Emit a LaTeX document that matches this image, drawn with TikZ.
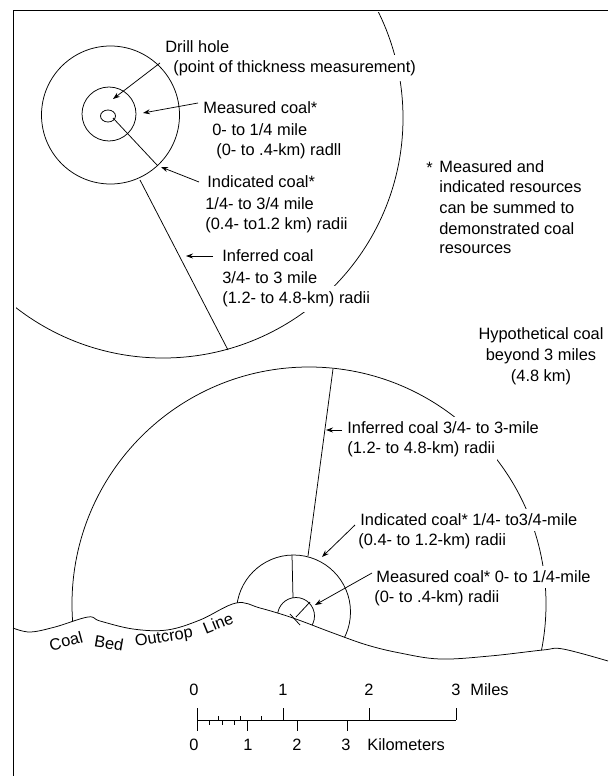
\documentclass[tikz,border=0pt]{standalone}
\usepackage{fontspec}
\setmainfont{Liberation Sans}
\usetikzlibrary{arrows.meta,shapes.geometric}
\begin{document}
\begin{tikzpicture}[x=1pt,y=-1pt,line width=0.75pt,
 txt/.style={inner sep=0pt,anchor=west,font=\fontsize{16.4}{19.7}\selectfont},
 ctxt/.style={txt,anchor=center},
 gap/.style={fill=white,inner xsep=2pt,inner ysep=5pt},
 arr/.style={-{Stealth[length=7pt,width=5pt]}},
 ring/.style={draw,circle,inner sep=0pt}]
\useasboundingbox (0,0) rectangle (608,776);
% frame
\coordinate (fbl) at (13,776); \coordinate (ftl) at (13,10); \coordinate (ftr) at (608,10);
\draw (fbl) -- (ftl) -- (ftr);

% ---------- top drill hole ----------
\node[draw,ellipse,inner sep=0pt,minimum width=15pt,minimum height=12pt] (hole) at (108,116) {};
\node[ring,minimum size=54pt] (meas) at (109,114) {};
\node[ring,minimum size=138pt] (ind) at (110.5,115) {};
\begin{scope}
\clip (16,13) rectangle (608,776);
\draw (163,118) circle[radius=240];
\end{scope}
\coordinate (r1a) at (113,118); \coordinate (r1b) at (157,165);
\coordinate (r2a) at (140,180); \coordinate (r2b) at (228,350);
\draw (r1a) -- (r1b);
\draw (r2a) -- (r2b);

\node[txt] (t1) at (165,47) {Drill hole};
\node[txt,gap] (t2) at (171,68) {(point of thickness measurement)};
\node[txt] (t3) at (203,108) {Measured coal*};
\node[txt] (t4) at (212,130) {0- to 1/4 mile};
\node[txt] (t5) at (216,151) {(0- to .4-km) radll};
\node[txt] (t6) at (207,182) {Indicated coal*};
\node[txt] (t7) at (205,204) {1/4- to 3/4 mile};
\node[txt] (t8) at (205,225) {(0.4- to1.2 km) radii};
\node[txt] (t9) at (222,256) {Inferred coal};
\node[txt] (t10) at (222,278) {3/4- to 3 mile};
\node[txt,gap] (t11) at (220,299) {(1.2- to 4.8-km) radii};

\coordinate (a1s) at (160,63); \coordinate (a1e) at (113,99);
\coordinate (a2s) at (198,103); \coordinate (a2e) at (143,113);
\coordinate (a3s) at (199,182); \coordinate (a3e) at (161,167);
\coordinate (a4s) at (213,256); \coordinate (a4e) at (186,256);
\draw[arr] (a1s) -- (a1e);
\draw[arr] (a2s) -- (a2e);
\draw[arr] (a3s) -- (a3e);
\draw[arr] (a4s) -- (a4e);

% note
\node[txt] (star) at (426,168) {*};
\node[txt] (n1) at (439,167) {Measured and};
\node[txt] (n2) at (439,187) {indicated resources};
\node[txt] (n3) at (439,208) {can be summed to};
\node[txt] (n4) at (439,229) {demonstrated coal};
\node[txt] (n5) at (439,249) {resources};

\node[ctxt] (h1) at (541,335) {Hypothetical coal};
\node[ctxt] (h2) at (541,356) {beyond 3 miles};
\node[ctxt] (h3) at (541,377) {(4.8 km)};

% ---------- bottom: outcrop ----------
\begin{scope}
\clip plot[smooth,tension=0.6] coordinates {(13,628) (30,632) (55,627) (88,617) (100,621) (133,629) (167,630) (200,620) (236,603) (260,608) (293,618) (333,633) (367,645) (400,653) (440,659) (490,656) (543,650) (563,649) (608,661)} -- (608,0) -- (0,0) -- cycle;
\draw (309,604) circle[radius=237];
\draw (293.5,612) circle[radius=57];
\draw (296,616) circle[radius=18.5];
\end{scope}
\draw plot[smooth,tension=0.6] coordinates {(13,628) (30,632) (55,627) (88,617) (100,621) (133,629) (167,630) (200,620) (236,603) (260,608) (293,618) (333,633) (367,645) (400,653) (440,659) (490,656) (543,650) (563,649) (608,661)};

\coordinate (b1a) at (333,369); \coordinate (b1b) at (308,556);
\coordinate (b2a) at (292,555); \coordinate (b2b) at (293,598);
\coordinate (b3a) at (296,617); \coordinate (b3b) at (310,602);
\coordinate (b4a) at (290,614); \coordinate (b4b) at (300,625);
\draw (b1a) -- (b1b);
\draw (b2a) -- (b2b);
\draw (b3a) -- (b3b);
\draw (b4a) -- (b4b);

\node[txt,gap] (u1) at (345,428) {Inferred coal 3/4- to 3-mile};
\node[txt,gap] (u2) at (345,449) {(1.2- to 4.8-km) radii};
\node[txt,gap] (u3) at (358,520) {Indicated coal* 1/4- to3/4-mile};
\node[txt] (u4) at (358,541) {(0.4- to 1.2-km) radii};
\node[txt,gap] (u5) at (374,577) {Measured coal* 0- to 1/4-mile};
\node[txt] (u6) at (374,598) {(0- to .4-km) radii};

\coordinate (c1s) at (342,430); \coordinate (c1e) at (326,430);
\coordinate (c2s) at (355,525); \coordinate (c2e) at (322,557);
\coordinate (c3s) at (372,573); \coordinate (c3e) at (315,605);
\draw[arr] (c1s) -- (c1e);
\draw[arr] (c2s) -- (c2e);
\draw[arr] (c3s) -- (c3e);

\node[txt,anchor=center,rotate=15] (w1) at (66,641) {Coal};
\node[txt,anchor=center,rotate=-10] (w2) at (109,643) {Bed};
\node[txt,anchor=center,rotate=9] (w3) at (164,638) {Outcrop};
\node[txt,anchor=center,rotate=22] (w4) at (218,623) {Line};

% ---------- scale bar ----------
\coordinate (s0) at (197,720); \coordinate (s3) at (456,720);
\draw (s0) -- (s3);
\draw (197,708) -- (197,731);
\foreach \x in {283,369,456} \draw (\x,708) -- (\x,720);
\foreach \x in {247,297,347} \draw (\x,720) -- (\x,731);
\foreach \x in {209.5,222,234.5} \draw (\x,720) -- (\x,725);
\foreach \x in {218.5,240,261.5} \draw (\x,720) -- (\x,715.5);
\node[ctxt] (m0) at (194,690) {0};
\node[ctxt] (m1) at (283,690) {1};
\node[ctxt] (m2) at (369,690) {2};
\node[ctxt] (m3) at (456,690) {3};
\node[txt] (ml) at (470,690) {Miles};
\node[ctxt] (k0) at (194,745) {0};
\node[ctxt] (k1) at (248,745) {1};
\node[ctxt] (k2) at (297,745) {2};
\node[ctxt] (k3) at (346,745) {3};
\node[txt] (kl) at (367,745) {Kilometers};
\end{tikzpicture}
\end{document}
